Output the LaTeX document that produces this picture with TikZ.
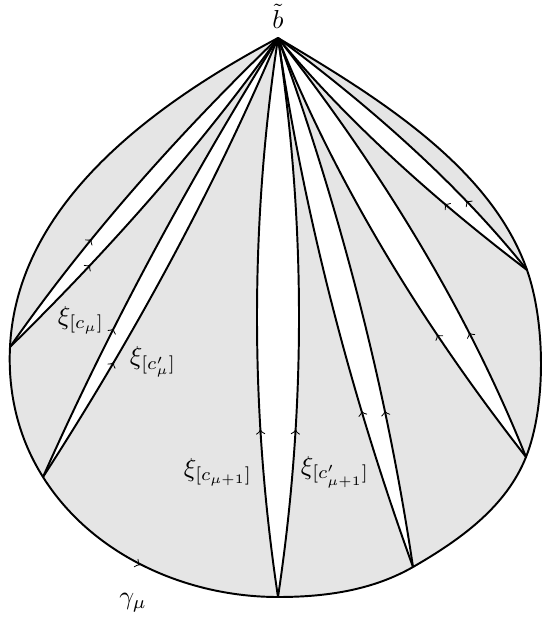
\documentclass[tikz,border=0pt]{standalone}
\usetikzlibrary{calc,decorations.markings}
\begin{document}
\begin{tikzpicture}[x=0.385pt,y=-0.385pt,
  edge/.style={line width=0.75pt,line join=round},
  arr/.style={postaction={decorate,decoration={markings,mark=at position #1 with {\arrow[line width=0.4pt]{>}}}}},
  lab/.style={inner sep=0pt},
  region/.style={fill=gray!20},
  sliver/.style={fill=white}]
\useasboundingbox (0,0) rectangle (544,622);
\coordinate (A) at (278,38);
\coordinate (P1) at (10,347);
\coordinate (P2) at (43,477);
\coordinate (P3) at (278,597);
\coordinate (P4) at (413,567);
\coordinate (P5) at (526,457);
\coordinate (P6) at (527,270);
\coordinate (u1) at (118,192);
\coordinate (l1) at (168,192);
\coordinate (u2) at (141,257);
\coordinate (l2) at (185,257);
\coordinate (u3) at (236,317);
\coordinate (l3) at (320,317);
\coordinate (u4) at (317.5,302.5);
\coordinate (l4) at (373.5,302.5);
\coordinate (u5) at (362,247.5);
\coordinate (l5) at (442,247.5);
\coordinate (u6) at (374.5,154);
\coordinate (l6) at (434.5,154);
% outer region
\path[region] (A) .. controls (152,105) and (17,204) .. (P1)
  .. controls (7.7,393) and (18.3,438) .. (P2)
  .. controls (92,555) and (186,597) .. (P3)
  .. controls (325,597) and (372,590.5) .. (P4)
  .. controls (459.8,540) and (506,507.2) .. (P5)
  .. controls (546.4,405.8) and (545.2,321.7) .. (P6)
  .. controls (490.7,166.6) and (376.9,96.7) .. (A) -- cycle;
% white slivers
\foreach \p/\u/\l in {P1/u1/l1,P2/u2/l2,P3/u3/l3,P4/u4/l4,P5/u5/l5,P6/u6/l6}{
  \path[sliver] (A) .. controls ($(A)!0.6667!(\u)$) and ($(\p)!0.6667!(\u)$) .. (\p)
     .. controls ($(\p)!0.6667!(\l)$) and ($(A)!0.6667!(\l)$) .. (A) -- cycle;
}
% outer boundary
\draw[edge] (A) .. controls (152,105) and (17,204) .. (P1)
  .. controls (7.7,393) and (18.3,438) .. (P2)
  .. controls (92,555) and (186,597) .. (P3)
  .. controls (325,597) and (372,590.5) .. (P4)
  .. controls (459.8,540) and (506,507.2) .. (P5)
  .. controls (546.4,405.8) and (545.2,321.7) .. (P6)
  .. controls (490.7,166.6) and (376.9,96.7) .. (A);
% sliver boundaries
\foreach \p/\c/\pos in {P1/u1/0.33,P1/l1/0.28,P2/u2/0.33,P2/l2/0.27,P3/u3/0.30,P3/l3/0.30,P4/u4/0.30,P4/l4/0.29,P5/u5/0.31,P5/l5/0.28,P6/u6/0.31,P6/l6/0.27}{
  \draw[edge,arr=\pos] (\p) .. controls ($(\p)!0.6667!(\c)$) and ($(A)!0.6667!(\c)$) .. (A);
}
% arrow on gamma
\coordinate (g1) at (138.2,564.1);
\coordinate (g2) at (140,565);
\draw[line width=0.4pt,->] (g1) -- (g2);
% labels
\node[lab] (bt) at (278,16) {$\tilde b$};
\node[lab] (x1) at (81,320) {$\xi_{[c_\mu]}$};
\node[lab] (x2) at (153,362) {$\xi_{[c'_\mu]}$};
\node[lab] (x3) at (218,472) {$\xi_{[c_{\mu+1}]}$};
\node[lab] (x4) at (335,472) {$\xi_{[c'_{\mu+1}]}$};
\node[lab] (gm) at (133,603) {$\gamma_\mu$};
\end{tikzpicture}
\end{document}
